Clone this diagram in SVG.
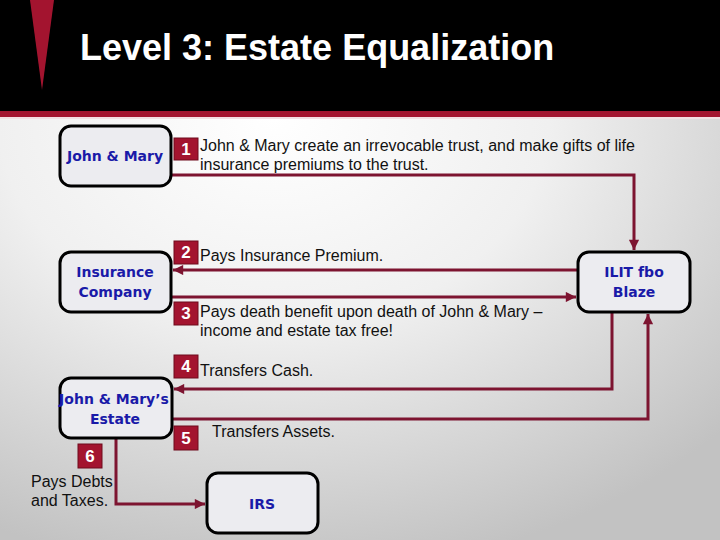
<svg xmlns="http://www.w3.org/2000/svg" width="720" height="540" viewBox="0 0 720 540">
<defs>
<radialGradient id="bg" cx="0.38" cy="0.22" r="0.85">
<stop offset="0" stop-color="#ffffff"/>
<stop offset="0.45" stop-color="#f0f0f0"/>
<stop offset="1" stop-color="#c2c2c2"/>
</radialGradient>
<marker id="ah" viewBox="0 0 10 10" refX="10" refY="5" markerWidth="4" markerHeight="3.4" orient="auto" markerUnits="strokeWidth">
<path d="M0,0 L10,5 L0,10 z" fill="#7d1430"/>
</marker>
<style>
.node{fill:#ececf0;stroke:#000;stroke-width:3}
.nl{font-family:"DejaVu Sans",Verdana,sans-serif;font-weight:bold;font-size:14px;fill:#1a1aa8;text-anchor:middle}
.tx{font-family:"Liberation Sans",Arial,sans-serif;font-size:16px;fill:#111}
.nb{fill:#a3142f;stroke:#6e0a1c;stroke-width:1}
.nn{font-family:"Liberation Sans",Arial,sans-serif;font-weight:bold;font-size:17px;fill:#fff;text-anchor:middle}
.cn{fill:none;stroke:#7d1430;stroke-width:3}
</style>
</defs>
<rect x="0" y="0" width="720" height="540" fill="url(#bg)"/>
<g id="header">
<rect x="0" y="0" width="720" height="111" fill="#000"/>
<rect x="0" y="111" width="720" height="6" fill="#a3142f"/>
<rect x="0" y="117" width="720" height="2" fill="#f3dfe3"/>
<polygon points="30,0 54,0 42,90" fill="#a3142f"/>
<text x="80" y="60" font-family="'Liberation Sans',Arial,sans-serif" font-weight="bold" font-size="36" fill="#fff">Level 3: Estate Equalization</text>
</g>
<g id="connectors">
<path class="cn" d="M171,175 H634 V250" marker-end="url(#ah)"/>
<path class="cn" d="M578,270 H173" marker-end="url(#ah)"/>
<path class="cn" d="M171,297 H576" marker-end="url(#ah)"/>
<path class="cn" d="M612,312 V389 H174" marker-end="url(#ah)"/>
<path class="cn" d="M172,419 H648 V314" marker-end="url(#ah)"/>
<path class="cn" d="M116,438 V504 H205" marker-end="url(#ah)"/>
</g>
<g id="john-mary">
<rect class="node" x="60" y="126" width="111" height="60" rx="11"/>
<text class="nl" x="115" y="161">John &amp; Mary</text>
</g>
<g id="insurance-company">
<rect class="node" x="60" y="252" width="111" height="60" rx="11"/>
<text class="nl" x="115" y="277">Insurance</text>
<text class="nl" x="115" y="297">Company</text>
</g>
<g id="ilit">
<rect class="node" x="578" y="252" width="112" height="60" rx="11"/>
<text class="nl" x="634" y="277">ILIT fbo</text>
<text class="nl" x="634" y="297">Blaze</text>
</g>
<g id="estate">
<rect class="node" x="60" y="378" width="112" height="60" rx="11"/>
<text class="nl" x="114" y="404">John &amp; Mary’s</text>
<text class="nl" x="115" y="424">Estate</text>
</g>
<g id="irs">
<rect class="node" x="207" y="473" width="111" height="60" rx="11"/>
<text class="nl" x="262" y="509">IRS</text>
</g>
<g id="step1">
<rect class="nb" x="174" y="138" width="24" height="22"/>
<text class="nn" x="186" y="155">1</text>
<text class="tx" x="200" y="151">John &amp; Mary create an irrevocable trust, and make gifts of life</text>
<text class="tx" x="200" y="170">insurance premiums to the trust.</text>
</g>
<g id="step2">
<rect class="nb" x="174" y="241" width="24" height="23"/>
<text class="nn" x="186" y="258">2</text>
<text class="tx" x="200" y="261">Pays Insurance Premium.</text>
</g>
<g id="step3">
<rect class="nb" x="174" y="302" width="24" height="23"/>
<text class="nn" x="186" y="319">3</text>
<text class="tx" x="200" y="317">Pays death benefit upon death of John &amp; Mary –</text>
<text class="tx" x="200" y="336">income and estate tax free!</text>
</g>
<g id="step4">
<rect class="nb" x="174" y="355" width="24" height="23"/>
<text class="nn" x="186" y="372">4</text>
<text class="tx" x="200" y="376">Transfers Cash.</text>
</g>
<g id="step5">
<rect class="nb" x="174" y="426" width="24" height="24"/>
<text class="nn" x="186" y="444">5</text>
<text class="tx" x="212" y="437">Transfers Assets.</text>
</g>
<g id="step6">
<rect class="nb" x="78" y="444" width="24" height="24"/>
<text class="nn" x="90" y="462">6</text>
<text class="tx" x="31" y="487">Pays Debts</text>
<text class="tx" x="31" y="506">and Taxes.</text>
</g>
</svg>
